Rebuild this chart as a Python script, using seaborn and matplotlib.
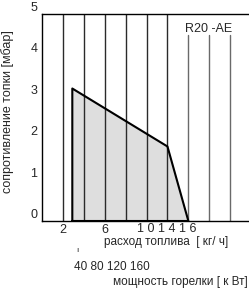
import matplotlib
matplotlib.use("Agg")
import matplotlib.pyplot as plt
import numpy as np
import seaborn as sns

sns.set_style("white")
plt.rcParams['font.family'] = ['Liberation Sans', 'DejaVu Sans']

# рабочее поле горелки R20-AE
flow_kg_h = [2.9, 2.9, 12.0, 14.0, 2.9]       # расход топлива, кг/ч
pressure_mbar = [0.0, 3.2, 1.8, 0.0, 0.0]     # сопротивление топки, мбар

full_grid = [2, 4, 6, 8, 10, 12]
short_grid = [14, 16, 18]
y_ticks = [0, 1, 2, 3, 4, 5]
kg_ticks = [2, 6]
kg_extra = "1 0 1 4 1 6"
kw_labels = "40 80 120 160"

W, H = 249, 288
fig = plt.figure(figsize=(W / 100, H / 100), dpi=100)
ax = fig.add_axes([42 / W, (H - 221) / H, (W - 42) / W, (221 - 14) / H])

ax.fill(flow_kg_h, pressure_mbar, color="#dedede", zorder=1)
sns.lineplot(x=flow_kg_h, y=pressure_mbar, sort=False, estimator=None,
             color="black", lw=1.5, ax=ax, zorder=3)

for x in full_grid:
    ax.axvline(x, color="#2a2a2a", lw=1.0, zorder=2)
for x in short_grid:
    ax.axvline(x, ymax=4.5 / 5, color="#6a6a6a", lw=1.0, zorder=2)

ax.set_xlim(0, 19.8)
ax.set_ylim(0, 5)
for s in ["left", "top", "bottom"]:
    ax.spines[s].set_color("black")
    ax.spines[s].set_linewidth(1.0)
ax.spines["right"].set_visible(False)

ax.set_yticks([])
for v in y_ticks:
    ax.text(-0.45, v, str(v), fontsize=9, ha="right", va="bottom")
ax.set_xticks(kg_ticks)
ax.set_xticklabels([str(v) for v in kg_ticks], fontsize=9)
ax.tick_params(axis="x", which="both", length=0, width=0, bottom=False, pad=2)
ax.minorticks_off()

ax.text(15.9, 4.63, "R20 -AE", fontsize=9, ha="center", va="center")
ax.text(11.9, -0.06, kg_extra, fontsize=9, ha="center", va="top")

def ftext(x, y, s, **kw):
    fig.text(x / W, 1 - y / H, s, **kw)

ftext(8, 112, "сопротивление топки [мбар]", fontsize=9, rotation=90,
      ha="center", va="center")
ftext(166, 242, "расход топлива  [ кг/ ч]", fontsize=8.5, ha="center", va="center")
ftext(77, 250, "ı", fontsize=6, ha="center", va="center")
ftext(112, 267, kw_labels, fontsize=8.5, ha="center", va="center")
ftext(248, 282, "мощность горелки [ к Вт]", fontsize=8.5, ha="right", va="center")

fig.savefig("out.png", dpi=100)
